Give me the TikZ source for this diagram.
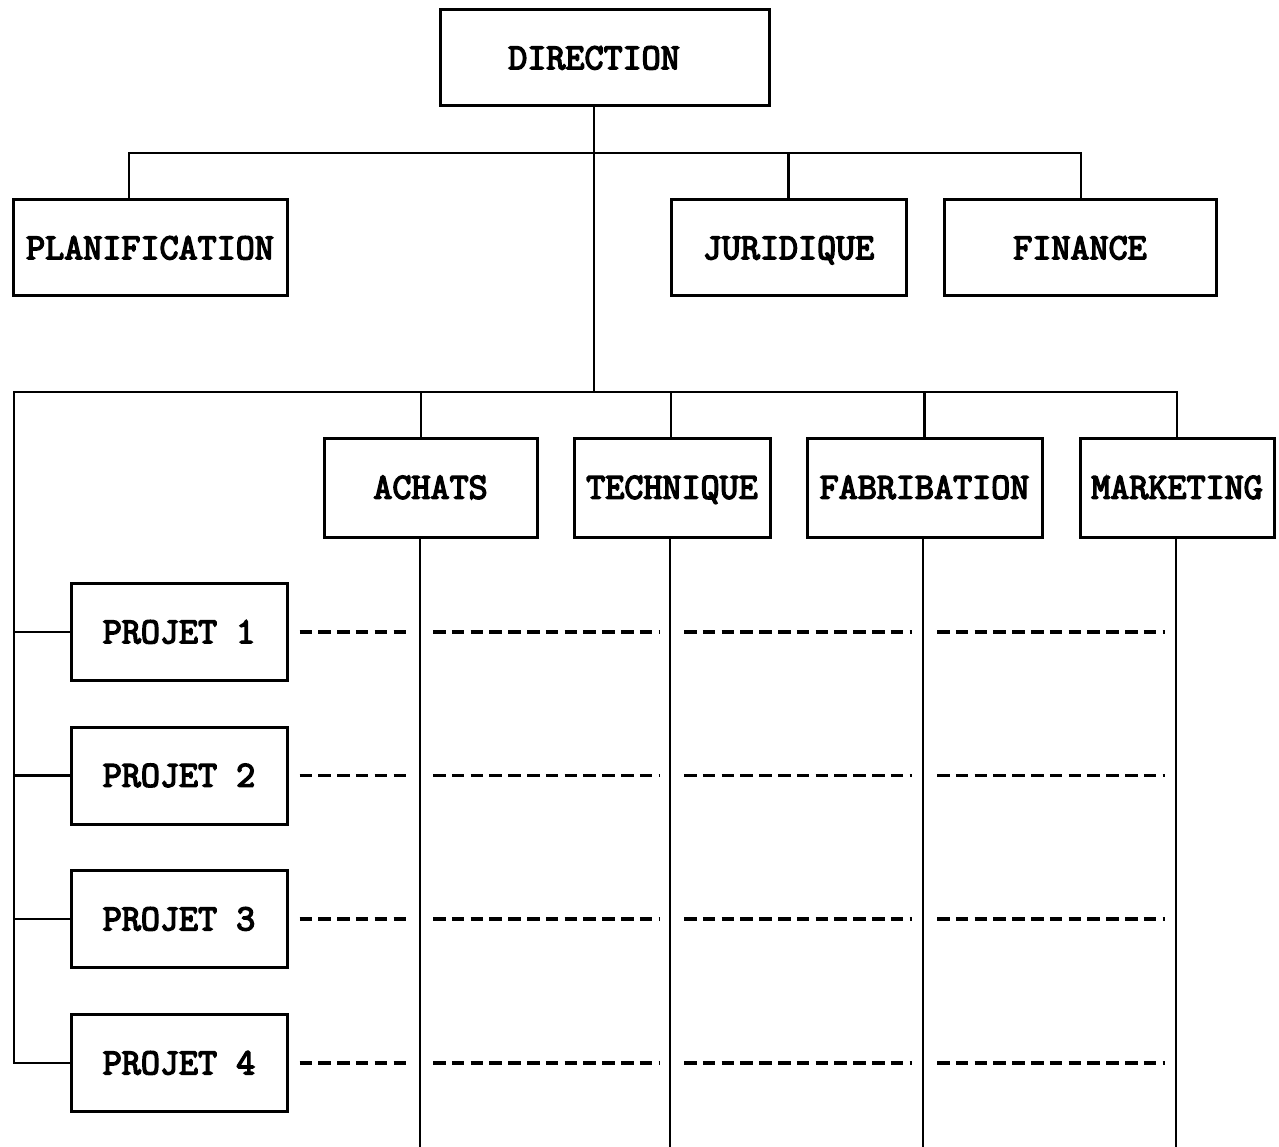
\documentclass[tikz,border=0pt]{standalone}
\usepackage{fontspec}
\newfontfamily\boxfont{Latin Modern Mono}[FakeBold=4]
\begin{document}
\begin{tikzpicture}[x=1pt,y=1pt,
  box/.style={draw,line width=3pt,inner sep=0pt,minimum height=96pt,
    text height=22.5pt,text depth=0pt,
    font=\fontsize{37}{42}\boxfont\bfseries},
  link/.style={line width=2.6pt},
  grid/.style={line width=2.4pt},
  cross/.style={line width=3.8pt,dash pattern=on 12.5pt off 6.3pt}]
\useasboundingbox (0,0) rectangle (1279,-1147);

% management level
\node[box,minimum width=329pt] (dir) at (604.5,-58) {\hspace*{-21pt}DIRECTION};
\node[box,minimum width=274pt] (plan) at (150,-248) {PLANIFICATION};
\node[box,minimum width=235pt] (jur) at (788.5,-248) {JURIDIQUE};
\node[box,minimum width=272pt] (fin) at (1080,-248) {FINANCE};

% functional departments
\node[box,minimum width=213pt,minimum height=99pt] (ach) at (430.5,-487.5) {ACHATS};
\node[box,minimum width=196pt,minimum height=99pt] (tec) at (672,-487.5) {TECHNIQUE};
\node[box,minimum width=235pt,minimum height=99pt] (fab) at (924.5,-487.5) {FABRIBATION};
\node[box,minimum width=194pt,minimum height=99pt] (mkt) at (1177,-487.5) {MARKETING};

% projects
\node[box,minimum width=216pt,minimum height=97pt] (p1) at (179,-632) {PROJET 1};
\node[box,minimum width=216pt,minimum height=97pt] (p2) at (179,-775.5) {PROJET 2};
\node[box,minimum width=216pt,minimum height=97pt] (p3) at (179,-919) {PROJET 3};
\node[box,minimum width=216pt,minimum height=97pt] (p4) at (179,-1063) {PROJET 4};

% bus junctions
\coordinate (busA) at (594,-153);
\coordinate (busB) at (594,-392);
\coordinate (lbus) at (14,-392);
\coordinate (bot) at (0,-1147);

% upper staff tree
\draw[link] (dir.south -| busA) -- (busB);
\draw[link] ([xshift=-21pt]plan.north) |- (busA) -| ([xshift=1pt]fin.north);
\draw[link] (jur.north) -- (jur.north |- busA);

% lower tree to departments and projects
\draw[link] (p4.west) -| (lbus) -- (busB) -| (mkt.north);
\draw[link] ([xshift=-9.5pt]ach.north) -- ([xshift=-9.5pt]ach.north |- busB);
\draw[link] ([xshift=-1pt]tec.north) -- ([xshift=-1pt]tec.north |- busB);
\draw[link] (fab.north) -- (fab.north |- busB);
\foreach \p in {p1,p2,p3} \draw[link] (\p.west) -- (\p.west -| lbus);

% department columns
\draw[grid] ([xshift=-10.5pt]ach.south) -- ([xshift=-10.5pt]ach.south |- bot);
\draw[grid] ([xshift=-2pt]tec.south) -- ([xshift=-2pt]tec.south |- bot);
\draw[grid] ([xshift=-1.5pt]fab.south) -- ([xshift=-1.5pt]fab.south |- bot);
\draw[grid] ([xshift=-1pt]mkt.south) -- ([xshift=-1pt]mkt.south |- bot);

% project rows across the columns
\foreach \p in {p1,p2,p3,p4} {
  \draw[cross] ([xshift=11pt]\p.east) -- (\p.east -| 410,0);
  \draw[cross] (\p.east -| 433,0) -- (\p.east -| 660,0);
  \draw[cross] (\p.east -| 684,0) -- (\p.east -| 912,0);
  \draw[cross] (\p.east -| 937,0) -- (\p.east -| 1165,0);
}
\end{tikzpicture}
\end{document}
